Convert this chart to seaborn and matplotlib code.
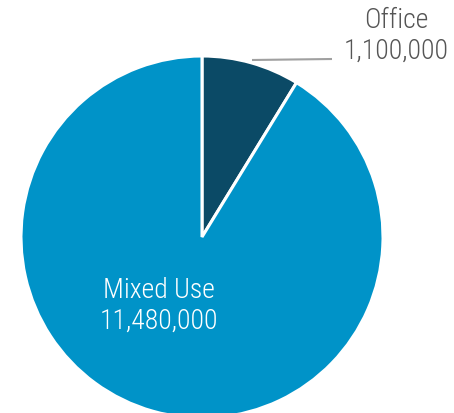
import matplotlib
matplotlib.use("Agg")
import matplotlib.pyplot as plt
import seaborn as sns

categories = ["Office", "Mixed Use"]
values = [1100000, 11480000]
colors = ["#0b4a66", "#0093c8"]

sns.set_theme(style="white")
plt.rcParams['font.family'] = ['Roboto Condensed', 'Roboto', 'DejaVu Sans']

fig = plt.figure(figsize=(4.54, 4.14), dpi=100)
ax = fig.add_axes([0, 0, 1, 1])

cx, cy, r = 202, 414 - 238, 181
ax.pie(values, colors=colors, startangle=90, counterclock=False,
       center=(cx, cy), radius=r, frame=True,
       wedgeprops=dict(edgecolor='white', linewidth=2.2))
ax.set_xlim(0, 454)
ax.set_ylim(0, 414)
ax.set_aspect('auto')
ax.axis('off')

def fmt(v):
    return f"{v:,}"

ax.plot([252, 332], [414 - 61, 414 - 60], color='#a0a0a0', lw=1.5, solid_capstyle='butt')
ax.text(396, 414 - 36, f"{categories[0]}\n{fmt(values[0])}", ha='center', va='center',
        color='#555555', fontsize=20, linespacing=1.2, fontweight='light')
ax.text(159, 414 - 306, f"{categories[1]}\n{fmt(values[1])}", ha='center', va='center',
        color='white', fontsize=20, linespacing=1.2, fontweight='light')

fig.savefig("out.png", dpi=100)
